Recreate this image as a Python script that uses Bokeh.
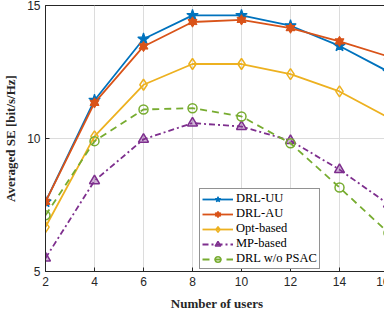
from bokeh.plotting import figure
from bokeh.models import Legend, LegendItem, FixedTicker, Range1d
from bokeh.embed import file_html
from bokeh.resources import INLINE

users = [2, 4, 6, 8, 10, 12, 14, 16]
drl_uu = [7.62, 11.44, 13.74, 14.63, 14.63, 14.24, 13.48, 12.51]
drl_au = [7.62, 11.34, 13.46, 14.38, 14.46, 14.15, 13.65, 13.08]
opt_based = [6.67, 10.08, 12.02, 12.80, 12.80, 12.42, 11.77, 10.78]
mp_based = [5.50, 8.41, 9.97, 10.58, 10.45, 9.92, 8.83, 7.53]
drl_wo_psac = [7.11, 9.90, 11.09, 11.14, 10.83, 9.82, 8.16, 6.45]

x_ticks = [2, 4, 6, 8, 10, 12, 14, 16]
y_ticks = [5, 10, 15]

C_UU = "#0072BD"
C_AU = "#D95319"
C_OPT = "#EDB120"
C_MP = "#7E2F8E"
C_PSAC = "#77AC30"

p = figure(width=389, height=313, output_backend="svg", toolbar_location=None,
           x_range=Range1d(2, 16), y_range=Range1d(5, 15),
           min_border_left=0, min_border_right=1, min_border_top=5, min_border_bottom=0)

p.outline_line_color = "#262626"
p.outline_line_width = 1
p.background_fill_color = "white"
p.border_fill_color = "white"

for ax in (p.xaxis[0], p.yaxis[0]):
    ax.major_tick_in = 4
    ax.major_tick_out = 0
    ax.minor_tick_in = 0
    ax.minor_tick_out = 0
    ax.axis_line_color = "#262626"
    ax.major_tick_line_color = "#262626"
    ax.major_label_text_font = "Liberation Sans"
    ax.major_label_text_font_size = "12px"
    ax.major_label_text_color = "#262626"
    ax.axis_label_text_font = "Liberation Serif"
    ax.axis_label_text_font_style = "bold"
    ax.axis_label_text_font_size = "13px"
    ax.axis_label_text_color = "#262626"

p.xaxis[0].ticker = FixedTicker(ticks=x_ticks)
p.yaxis[0].ticker = FixedTicker(ticks=y_ticks)
p.xaxis[0].axis_label = "Number of users"
p.yaxis[0].axis_label = "Averaged SE [bit/s/Hz]"
p.xaxis[0].major_label_standoff = 5
p.yaxis[0].major_label_standoff = 5
p.xaxis[0].axis_label_standoff = 7
p.yaxis[0].axis_label_standoff = 6

p.xgrid.grid_line_color = "#dcdcdc"
p.ygrid.grid_line_color = "#dcdcdc"
p.xgrid.ticker = FixedTicker(ticks=x_ticks)
p.ygrid.ticker = FixedTicker(ticks=y_ticks)

lw = 1.8

# DRL-UU
r_uu_l = p.line(users, drl_uu, line_color=C_UU, line_width=lw)
r_uu_m = p.scatter(users, drl_uu, marker="star", size=12, line_color=C_UU, fill_color=C_UU, line_width=1.2)

# DRL-AU (hexagram built from two triangles)
r_au_l = p.line(users, drl_au, line_color=C_AU, line_width=lw)
r_au_m1 = p.scatter(users, drl_au, marker="triangle", size=9, line_color=C_AU, fill_color=C_AU, line_width=1)
r_au_m2 = p.scatter(users, drl_au, marker="inverted_triangle", size=9, line_color=C_AU, fill_color=C_AU, line_width=1)

# Opt-based
r_opt_l = p.line(users, opt_based, line_color=C_OPT, line_width=lw)
r_opt_m = p.scatter(users, opt_based, marker="diamond", size=11, line_color=C_OPT, fill_color="white", fill_alpha=0, line_width=1.5)

# MP-based
r_mp_l = p.line(users, mp_based, line_color=C_MP, line_width=lw, line_dash="6 3 2 3")
r_mp_m = p.scatter(users, mp_based, marker="triangle", size=10, line_color=C_MP, fill_color=C_MP, fill_alpha=0.35, line_width=1.5)

# DRL w/o PSAC
r_ps_l = p.line(users, drl_wo_psac, line_color=C_PSAC, line_width=lw, line_dash="7 5")
r_ps_m = p.scatter(users, drl_wo_psac, marker="circle", size=9, line_color=C_PSAC, fill_color="white", fill_alpha=0, line_width=1.5)

legend = Legend(items=[
    LegendItem(label="DRL-UU", renderers=[r_uu_l, r_uu_m]),
    LegendItem(label="DRL-AU", renderers=[r_au_l, r_au_m1, r_au_m2]),
    LegendItem(label="Opt-based", renderers=[r_opt_l, r_opt_m]),
    LegendItem(label="MP-based", renderers=[r_mp_l, r_mp_m]),
    LegendItem(label="DRL w/o PSAC", renderers=[r_ps_l, r_ps_m]),
], location=(154, 2))
legend.label_text_font = "Liberation Serif"
legend.label_text_font_size = "12.5px"
legend.label_text_color = "#000000"
legend.glyph_width = 31
legend.glyph_height = 14
legend.label_height = 14
legend.label_standoff = 3
legend.spacing = -1
legend.padding = 2
legend.margin = 0
legend.border_line_color = "#262626"
legend.border_line_width = 1
legend.background_fill_color = "white"
legend.background_fill_alpha = 1
p.add_layout(legend, "center")

open("out.html", "w").write(file_html(p, INLINE))
